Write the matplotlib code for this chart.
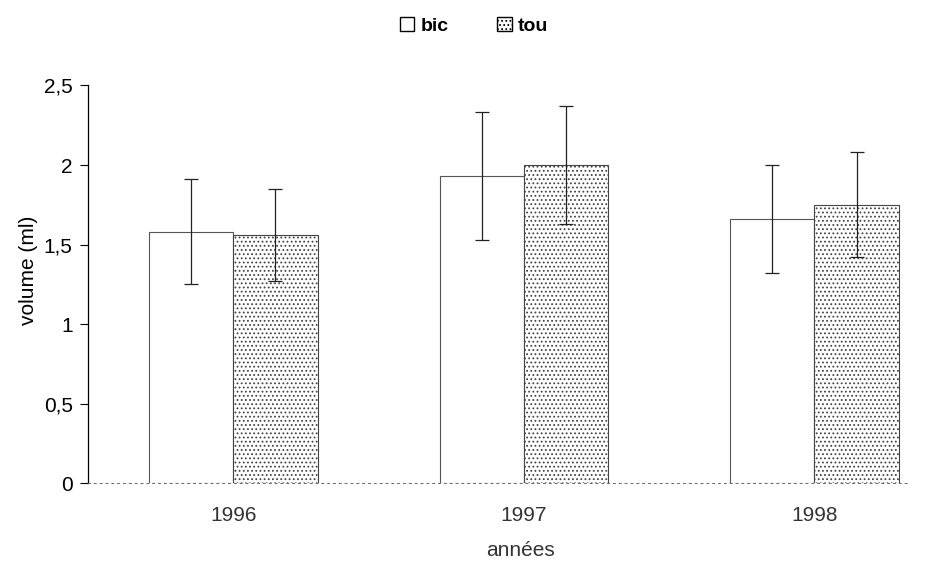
import numpy as np
import matplotlib.pyplot as plt
from matplotlib.patches import Patch

plt.rcParams['font.family'] = ['Liberation Sans', 'DejaVu Sans']
plt.rcParams['hatch.linewidth'] = 0.8
plt.rcParams['hatch.color'] = '#555555'

annees = ['1996', '1997', '1998']
bic = [1.58, 1.93, 1.66]
bic_err = [0.33, 0.40, 0.34]
tou = [1.56, 2.00, 1.75]
tou_err = [0.29, 0.37, 0.33]
y_ticks = [0, 0.5, 1, 1.5, 2, 2.5]
y_labels = ['0', '0,5', '1', '1,5', '2', '2,5']

fig = plt.figure(figsize=(9.42, 5.62), dpi=100)
ax = fig.add_axes([0.0934, 0.14, 0.873, 0.708])

x = np.arange(len(annees))
w = 0.29

ax.bar(x - w / 2, bic, w, color='white', edgecolor='#555555', linewidth=0.8)
ax.bar(x + w / 2, tou, w, color='white', edgecolor='#444444', linewidth=0.8,
       hatch='....')
ax.errorbar(x - w / 2, bic, yerr=bic_err, fmt='none', ecolor='#222222',
            elinewidth=0.9, capsize=5, capthick=0.9)
ax.errorbar(x + w / 2, tou, yerr=tou_err, fmt='none', ecolor='#222222',
            elinewidth=0.9, capsize=5, capthick=0.9)

ax.set_xlim(-0.5, 2.33)
ax.set_ylim(0, 2.5)
ax.set_xticks(x)
ax.set_xticklabels(annees, fontsize=15, color='#333333')
ax.tick_params(axis='x', length=0, pad=16)
ax.set_yticks(y_ticks)
ax.set_yticklabels(y_labels, fontsize=15)
ax.tick_params(axis='y', length=6, width=0.8, pad=5)

for side in ['top', 'right']:
    ax.spines[side].set_visible(False)
ax.spines['left'].set_linewidth(0.9)
ax.spines['bottom'].set_linestyle((0, (2, 4)))
ax.spines['bottom'].set_color('#666666')
ax.spines['bottom'].set_linewidth(0.7)

ax.set_ylabel('volume (ml)', fontsize=15, labelpad=4, y=0.536)
ax.set_xlabel('années', fontsize=15, color='#333333', labelpad=12, x=0.526)

handles = [Patch(facecolor='white', edgecolor='black', linewidth=1.0),
           Patch(facecolor='white', edgecolor='black', linewidth=1.0,
                 hatch='....')]
fig.legend(handles, ['bic', 'tou'], loc='center',
           bbox_to_anchor=(0.503, 0.954), ncol=2, frameon=False,
           prop={'weight': 'bold', 'size': 14}, handlelength=0.75,
           handleheight=0.75, handletextpad=0.3, columnspacing=2.5)

fig.savefig('out.png', dpi=100)
